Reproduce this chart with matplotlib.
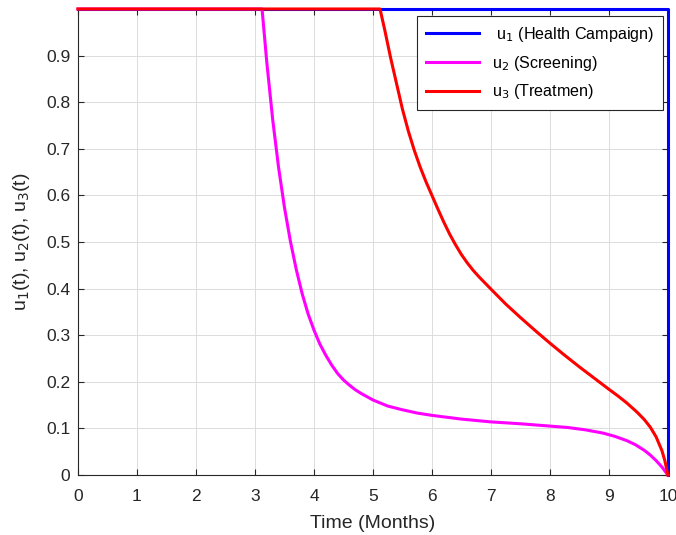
"""Optimal control profiles u1, u2, u3 over 10 months (MATLAB-style plot)."""

import matplotlib

matplotlib.use("Agg")
import matplotlib.pyplot as plt

plt.rcParams["font.family"] = ["Liberation Sans", "DejaVu Sans"]

# values
t_u1 = [0.0, 10.0, 10.0]
u1 = [1.0, 1.0, 0.0]

t_u2 = [0.0, 3.12, 3.2, 3.3, 3.4, 3.5, 3.6, 3.7, 3.8, 3.9, 4.0, 4.1, 4.2,
        4.3, 4.4, 4.5, 4.6, 4.7, 4.8, 4.9, 5.0, 5.25, 5.5, 5.75, 6.0, 6.5,
        7.0, 7.5, 8.0, 8.3, 8.6, 8.9, 9.1, 9.3, 9.45, 9.6, 9.7, 9.8, 9.9,
        10.0]
u2 = [1.0, 1.0, 0.886, 0.763, 0.66, 0.574, 0.502, 0.441, 0.389, 0.346,
      0.311, 0.281, 0.257, 0.236, 0.218, 0.204, 0.193, 0.183, 0.175, 0.168,
      0.161, 0.148, 0.14, 0.133, 0.128, 0.12, 0.114, 0.11, 0.105, 0.102,
      0.097, 0.09, 0.083, 0.074, 0.065, 0.053, 0.043, 0.031, 0.017, 0.0]

t_u3 = [0.0, 5.12, 5.2, 5.3, 5.4, 5.5, 5.6, 5.7, 5.8, 5.9, 6.0, 6.1, 6.2,
        6.3, 6.4, 6.5, 6.6, 6.7, 6.8, 6.9, 7.0, 7.25, 7.5, 7.75, 8.0, 8.25,
        8.5, 8.75, 9.0, 9.15, 9.3, 9.45, 9.5, 9.6, 9.7, 9.8, 9.9, 9.95, 10.0]
u3 = [1.0, 1.0, 0.955, 0.895, 0.84, 0.785, 0.738, 0.697, 0.661, 0.629, 0.6,
      0.571, 0.543, 0.517, 0.494, 0.473, 0.455, 0.439, 0.425, 0.412, 0.399,
      0.367, 0.338, 0.31, 0.283, 0.257, 0.232, 0.208, 0.184, 0.17, 0.155,
      0.138, 0.132, 0.119, 0.103, 0.082, 0.052, 0.03, 0.0]

labels = [" u$_1$ (Health Campaign)", "u$_2$ (Screening)", "u$_3$ (Treatmen)"]
colors = ["#0000ff", "#ff00ff", "#ff0000"]
ink = "#262626"

fig = plt.figure(figsize=(6.76, 5.35), dpi=100)
ax = fig.add_axes([0.1154, 0.1121, 0.8726, 0.8711])

for (t, u), label, color in zip([(t_u1, u1), (t_u2, u2), (t_u3, u3)], labels, colors):
    ax.plot(t, u, color=color, lw=2.2, label=label, clip_on=False, zorder=3)

ax.set_xlim(0, 10)
ax.set_ylim(0, 1)
ax.set_xticks(range(0, 11))
ax.set_yticks([i / 10 for i in range(10)])
ax.set_yticklabels(["0"] + [f"{i / 10:.1f}" for i in range(1, 10)])
ax.grid(True, color="#dcdcdc", lw=0.7)
ax.set_axisbelow(True)
ax.tick_params(direction="in", top=True, right=True, labelsize=12.5,
               colors=ink, length=4, labelcolor=ink)
ax.tick_params(axis="x", pad=10)
ax.tick_params(axis="y", pad=5.5)
for side in ax.spines.values():
    side.set_color(ink)
    side.set_linewidth(0.8)

ax.set_xlabel("Time (Months)", fontsize=14, color=ink, labelpad=8)
ax.set_ylabel("u$_1$(t), u$_2$(t), u$_3$(t)", fontsize=14, color=ink,
              labelpad=10)

leg = ax.legend(loc="upper right", bbox_to_anchor=(0.9915, 0.985),
                borderaxespad=0, fontsize=11.6, fancybox=False, framealpha=1,
                edgecolor=ink, handlelength=3.3, borderpad=0.55,
                labelspacing=0.6)
leg.get_frame().set_linewidth(0.8)

fig.savefig("out.png", dpi=100)
plt.close(fig)
